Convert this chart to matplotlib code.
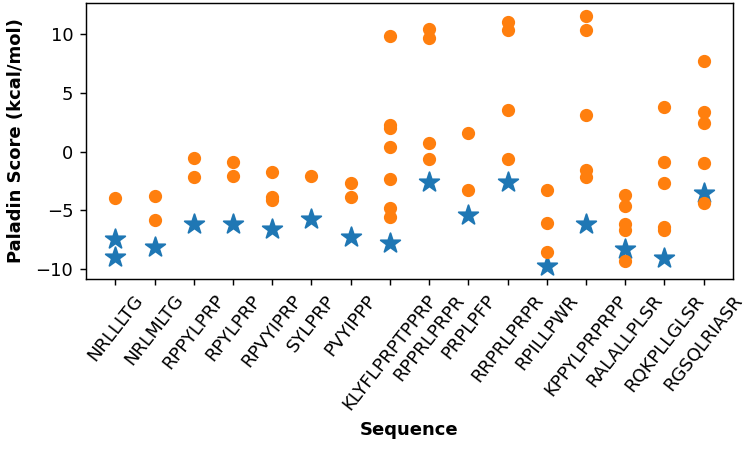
import matplotlib
matplotlib.use("Agg")
import matplotlib.pyplot as plt

sequences = ["NRLLLTG", "NRLMLTG", "RPPYLPRP", "RPYLPRP", "RPVYIPRP", "SYLPRP",
             "PVYIPPP", "KLYFLPRPTPPRP", "RPPRLPRPR", "PRPLPFP", "RRPRLPRPR",
             "RPILLPWR", "KPPYLPRPRPP", "RALALLPLSR", "RQKPLLGLSR", "RGSQLRIASR"]

star_scores = [
    [-7.45, -8.94],
    [-8.1],
    [-6.13],
    [-6.13],
    [-6.55],
    [-5.74],
    [-7.25],
    [-7.8],
    [-2.56],
    [-5.37],
    [-2.56],
    [-9.78],
    [-6.13],
    [-8.33],
    [-9.05],
    [-3.5],
]

circle_scores = [
    [-3.96],
    [-3.74, -5.85],
    [-0.56, -2.14],
    [-0.87, -2.05],
    [-1.72, -3.88, -4.1],
    [-2.08],
    [-2.67, -3.83],
    [9.83, 2.30, 2.02, 0.39, -2.34, -4.77, -5.6],
    [10.45, 9.7, 0.76, -0.65],
    [1.54, -3.26],
    [11.01, 10.37, 3.57, -0.65],
    [-3.26, -6.07, -8.52],
    [11.58, 10.37, 3.09, -1.58, -2.14],
    [-3.7, -4.6, -6.2, -6.7, -9.3],
    [3.79, -0.9, -2.68, -6.38, -6.7],
    [7.7, 3.36, 2.42, -1.01, -4.42],
]

dpi = 130
fig = plt.figure(figsize=(750 / dpi, 451 / dpi), dpi=dpi)
ax = fig.add_axes([86 / 750, 1 - 279 / 451, (733 - 86) / 750, (279 - 3) / 451])

sx, sy = [], []
for i, vals in enumerate(star_scores):
    for v in vals:
        sx.append(sequences[i]); sy.append(v)
cx, cy = [], []
for i, vals in enumerate(circle_scores):
    for v in vals:
        cx.append(sequences[i]); cy.append(v)

ax.scatter(sx, sy, marker="*", s=130, color="#1f77b4")
ax.scatter(cx, cy, marker="o", s=40, color="#ff7f0e")

ax.set_yticks([-10, -5, 0, 5, 10])
ax.tick_params(axis="both", labelsize=10)
plt.setp(ax.get_xticklabels(), rotation=52, ha="center")
ax.set_xlabel("Sequence", fontweight="bold", fontsize=10)
ax.set_ylabel("Paladin Score (kcal/mol)", fontweight="bold", fontsize=10, labelpad=6)

fig.savefig("out.png", dpi=dpi)
